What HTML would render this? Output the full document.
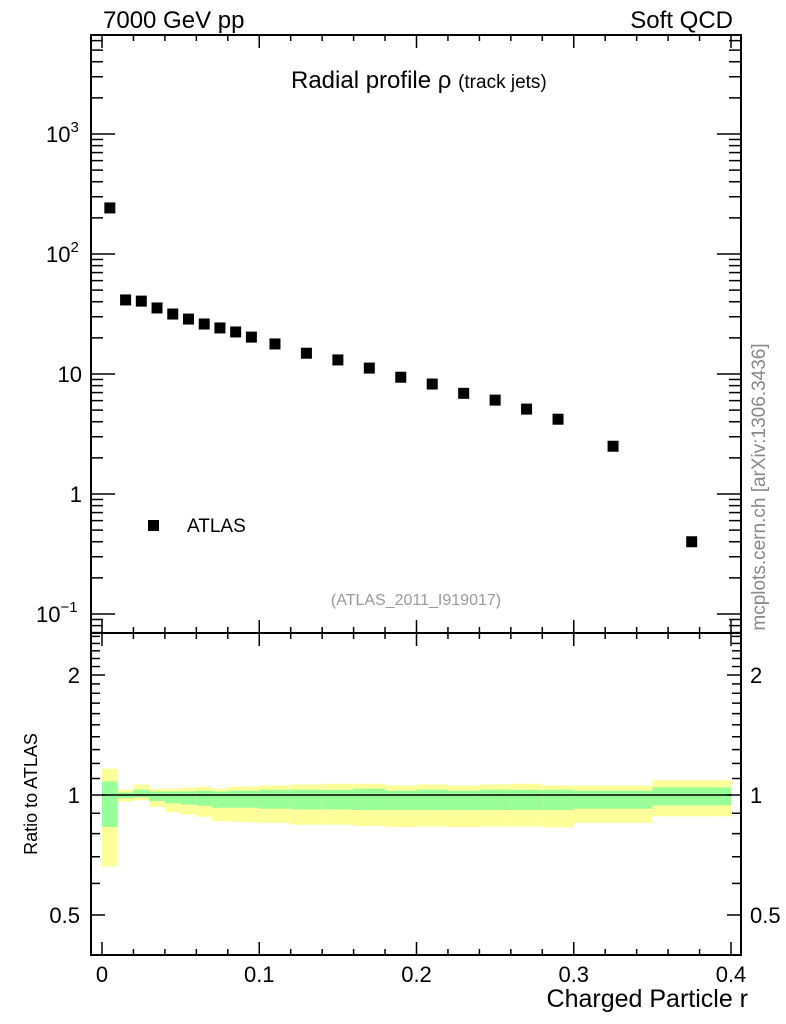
<!DOCTYPE html>
<html><head><meta charset="utf-8"><style>
body{margin:0;background:#fff;}
svg{display:block;font-family:"Liberation Sans",sans-serif;}
</style></head><body>
<svg id="chart" width="786" height="1024" viewBox="0 0 786 1024" xmlns="http://www.w3.org/2000/svg">
<text x="103" y="28" font-size="24">7000 GeV pp</text>
<text x="733" y="28" font-size="24" text-anchor="end">Soft QCD</text>
<text x="291" y="88" font-size="24">Radial profile ρ <tspan font-size="19">(track jets)</tspan></text>
<text x="416" y="605" font-size="16" fill="#999" text-anchor="middle">(ATLAS_2011_I919017)</text>
<text transform="translate(765,487) rotate(-90)" font-size="19" fill="#888" text-anchor="middle">mcplots.cern.ch [arXiv:1306.3436]</text>
<rect x="148" y="520" width="11" height="11" fill="#000"/>
<text x="187" y="532" font-size="19">ATLAS</text>
<text transform="translate(37,794) rotate(-90)" font-size="18" text-anchor="middle">Ratio to ATLAS</text>
<text x="748" y="1007" font-size="25" text-anchor="end">Charged Particle r</text>
<g id="bands"></g><g id="marks"></g><g id="axes"></g>
</svg>
<script>
const edges=[0,0.01,0.02,0.03,0.04,0.05,0.06,0.07,0.08,0.09,0.1,0.12,0.14,0.16,0.18,0.2,0.22,0.24,0.26,0.28,0.3,0.35,0.4];
const rhoValues=[242,41.4,40.5,35.5,31.6,28.7,26.1,24.2,22.4,20.3,17.8,14.9,13.1,11.2,9.4,8.25,6.9,6.06,5.1,4.2,2.5,0.40];
const yellowHi=[1.164,1.031,1.062,1.037,1.037,1.043,1.049,1.037,1.049,1.049,1.057,1.063,1.067,1.067,1.057,1.063,1.057,1.063,1.067,1.057,1.057,1.089];
const greenHi=[1.082,1.015,1.031,1.021,1.021,1.021,1.025,1.021,1.025,1.025,1.031,1.031,1.031,1.037,1.025,1.031,1.025,1.031,1.031,1.031,1.025,1.045];
const greenLo=[0.831,0.981,0.987,0.966,0.953,0.946,0.940,0.929,0.929,0.929,0.924,0.920,0.920,0.917,0.917,0.917,0.917,0.917,0.917,0.917,0.924,0.942];
const yellowLo=[0.661,0.962,0.970,0.933,0.905,0.893,0.882,0.860,0.857,0.854,0.851,0.842,0.842,0.836,0.831,0.834,0.831,0.834,0.834,0.829,0.851,0.884];
const xTicks=[0,0.1,0.2,0.3,0.4];
const xTickLabels=["0","0.1","0.2","0.3","0.4"];
const ratioTicks=[0.5,1,2];
const ratioTickLabels=["0.5","1","2"];

const NS="http://www.w3.org/2000/svg";
const L=91,R=741,T=35,M=633,B=955;
const X=v=>102+v*(731-102)/0.4;
const Y=v=>494-120*Math.log10(v);
const YR=v=>795-398.6*Math.log10(v);
function mk(tag,attrs,parent){const e=document.createElementNS(NS,tag);for(const k in attrs)e.setAttribute(k,attrs[k]);document.getElementById(parent).appendChild(e);return e;}

for(let i=0;i<rhoValues.length;i++){
  const x0=X(edges[i]),x1=X(edges[i+1]);
  const y1=mk('rect',{x:x0,y:YR(yellowHi[i]),width:x1-x0,height:YR(yellowLo[i])-YR(yellowHi[i]),fill:'#ffff99'},'bands');
  
  
  const g1=mk('rect',{x:x0,y:YR(greenHi[i]),width:x1-x0,height:YR(greenLo[i])-YR(greenHi[i]),fill:'#99ff99'},'bands');
  
  
  const xc=X((edges[i]+edges[i+1])/2);
  const p=mk('rect',{x:xc-5.5,y:Y(rhoValues[i])-5.5,width:11,height:11,fill:'#000'},'marks');
  
  
}
const rl=mk('line',{x1:X(0),x2:X(0.4),y1:YR(1),y2:YR(1),stroke:'#000','stroke-width':1.5},'marks');



for(const [y0,y1,n] of [[T,M,'main-frame'],[M,B,'ratio-frame']]){
  const f=mk('rect',{x:L,y:y0,width:R-L,height:y1-y0,fill:'none',stroke:'#000','stroke-width':2},'axes');
  
  
}
function tick(x1,y1,x2,y2){mk('line',{x1,y1,x2,y2,stroke:'#000','stroke-width':1.5},'axes');}
for(let k=0;k<=20;k++){const v=k*0.02;const x=X(v);const maj=k%5==0;const len=maj?13:6;
  for(const [yb,dir] of [[T,1],[M,-1],[M,1],[B,-1]]) tick(x,yb,x,yb+dir*len);}
xTicks.forEach((v,i)=>{const t=mk('text',{x:X(v),y:982,'font-size':22,'text-anchor':'middle'},'axes');t.textContent=xTickLabels[i];
  
  });
for(let d=-2;d<=3;d++)for(let m=1;m<=9;m++){const v=m*Math.pow(10,d);const y=Y(v);if(y<T||y>M)continue;const len=m==1?24:12;
  tick(L,y,L+len,y);tick(R,y,R-len,y);}
const mainLabels=[[3,'10','3'],[2,'10','2'],[1,'10',''],[0,'1',''],[-1,'10','−1']];
mainLabels.forEach(([d,b,e])=>{const t=mk('text',{x:e?(e.length>1?62:70):82,y:Y(Math.pow(10,d))+8,'font-size':22,'text-anchor':'end'},'axes');
  
  
  t.textContent=b;if(e){const s=document.createElementNS(NS,'tspan');s.setAttribute('dy','-10');s.setAttribute('font-size','15');s.textContent=e;t.appendChild(s);t.setAttribute('text-anchor','start');t.setAttribute('x',e.length>1?36:46);}});
for(let k=5;k<=25;k++){const v=k/10;const y=YR(v);if(y<M||y>B)continue;const maj=ratioTicks.includes(v);const len=maj?14:9;
  tick(L,y,L+len,y);tick(R,y,R-len,y);}
ratioTicks.forEach((v,i)=>{for(const [x,a] of [[80,'end'],[750,'start']]){const t=mk('text',{x,y:YR(v)+8,'font-size':22,'text-anchor':a},'axes');t.textContent=ratioTickLabels[i];
  
  }});
</script>
</body></html>
